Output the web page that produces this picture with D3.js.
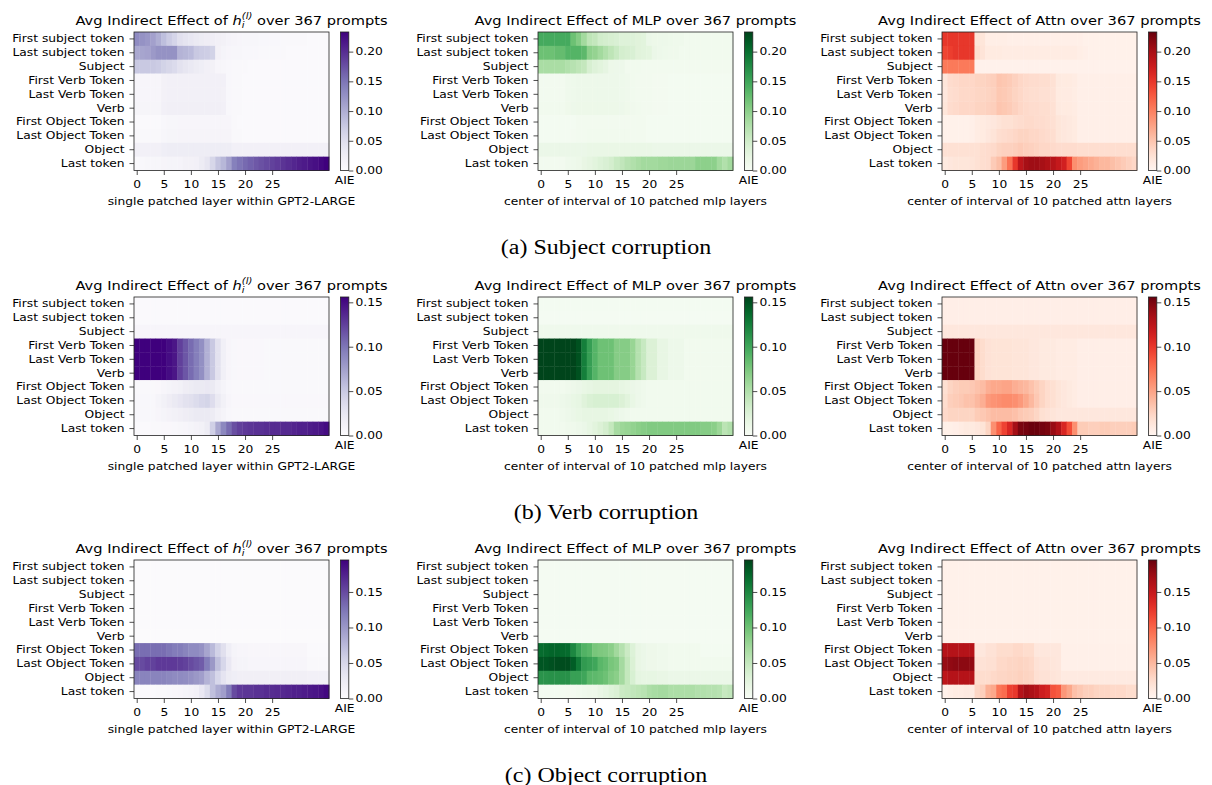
<!DOCTYPE html>
<html>
<head>
<meta charset="utf-8">
<script src="https://cdn.jsdelivr.net/npm/d3@7"></script>
<style>
  body { margin: 0; background: #fff; }
  text { font-family: "DejaVu Sans", sans-serif; fill: #000; }
</style>
</head>
<body>
<div id="chart"></div>
<script>
// row labels (token positions) and layer indices
var tokens = ["First subject token", "Last subject token", "Subject", "First Verb Token",
  "Last Verb Token", "Verb", "First Object Token", "Last Object Token", "Object", "Last token"];
var layers = [0,1,2,3,4,5,6,7,8,9,10,11,12,13,14,15,16,17,18,19,20,21,22,23,24,25,26,27,28,29,30,31,32,33,34,35];
var xTicks = [0, 5, 10, 15, 20, 25];

// colour range max per corruption, and colourbar ticks
var vmaxByRow = [0.233, 0.156, 0.195];
var cbTicksByRow = [[0, 0.05, 0.10, 0.15, 0.20], [0, 0.05, 0.10, 0.15], [0, 0.05, 0.10, 0.15]];
var captions = ["(a) Subject corruption", "(b) Verb corruption", "(c) Object corruption"];
var xLabels = ["single patched layer within GPT2-LARGE", "center of interval of 10 patched mlp layers",
  "center of interval of 10 patched attn layers"];

// AIE values, in thousandths (rows = tokens, columns = layers)
var subjHidden = [
  [130,125,120,112,100,85,72,62,48,42,38,33,30,27,25,22,20,16,14,12,11,10,10,9,8,8,8,7,7,6,6,6,5,5,5,5],
  [105,108,110,118,125,125,125,125,95,92,88,75,72,70,65,20,15,12,10,10,9,8,8,7,6,6,6,6,5,5,5,5,5,5,5,5],
  [75,75,75,75,72,65,60,55,45,40,35,30,26,22,20,12,10,8,7,6,6,5,5,5,5,5,4,4,4,4,4,4,4,4,4,4],
  [12,12,12,12,12,20,22,22,22,22,22,22,22,22,22,22,22,8,6,6,5,5,5,5,5,4,4,4,4,4,4,4,4,4,4,4],
  [12,12,12,12,12,20,22,22,22,22,22,22,22,22,22,22,20,8,6,6,5,5,5,5,5,4,4,4,4,4,4,4,4,4,4,4],
  [13,13,13,13,13,22,24,24,24,24,24,24,24,24,24,24,22,9,7,6,5,5,5,5,5,4,4,4,4,4,4,4,4,4,4,4],
  [5,5,5,5,5,9,11,11,12,12,12,12,12,12,12,12,12,12,6,5,5,4,4,4,4,4,4,4,4,4,4,4,4,4,4,4],
  [6,6,6,6,6,11,13,13,14,14,14,14,14,14,14,14,14,14,7,6,5,5,5,5,5,5,5,5,5,5,5,5,5,5,5,5],
  [22,22,22,22,22,26,28,28,28,28,28,28,28,28,28,28,28,28,22,22,22,22,22,22,22,22,22,22,22,22,22,22,22,22,22,22],
  [5,8,10,10,10,14,15,15,16,20,20,22,30,40,60,80,92,112,140,150,158,164,170,175,180,185,190,195,200,205,210,214,218,222,228,233]
];
var subjMlp = [
  [145,145,145,145,145,145,120,105,85,65,60,48,45,42,40,35,35,35,32,30,18,16,15,15,14,12,12,10,10,10,10,10,10,10,10,10],
  [120,120,120,125,125,135,135,135,130,100,95,85,75,65,55,45,42,40,32,30,28,18,15,14,12,12,10,10,10,10,10,10,10,10,10,10],
  [80,80,80,80,80,75,70,65,60,42,35,30,25,16,15,15,10,10,10,8,8,8,8,8,8,8,8,8,8,8,8,8,8,8,8,8],
  [8,8,8,8,8,12,14,15,15,15,15,15,15,15,15,14,12,10,8,8,8,7,7,7,6,6,6,6,6,6,6,6,6,6,6,6],
  [8,8,8,8,8,12,14,15,15,15,15,15,15,15,15,14,12,10,8,8,8,7,7,7,6,6,6,6,6,6,6,6,6,6,6,6],
  [9,9,9,9,9,13,15,16,16,16,16,16,16,16,16,15,13,11,9,8,8,7,7,7,6,6,6,6,6,6,6,6,6,6,6,6],
  [6,6,6,6,6,6,6,8,8,8,8,8,8,8,8,8,8,8,8,8,6,6,6,6,6,6,6,6,6,6,6,6,6,6,6,6],
  [6,6,6,6,6,6,7,8,8,9,9,9,9,9,9,9,9,8,8,8,6,6,6,6,6,6,6,6,6,6,6,6,6,6,6,6],
  [18,18,18,18,18,18,18,18,18,20,20,20,20,20,20,20,20,20,20,20,20,18,18,18,18,18,18,18,18,18,18,18,18,18,18,18],
  [8,8,8,8,8,12,14,16,22,26,30,36,40,45,55,62,70,75,80,85,85,85,88,88,90,90,90,90,90,100,100,100,100,85,75,85]
];
var subjAttn = [
  [150,150,150,150,150,150,22,20,10,10,10,10,8,8,8,8,8,8,8,8,8,8,8,8,8,8,6,6,6,6,6,6,6,6,6,6],
  [140,145,150,150,150,150,28,22,14,14,14,12,12,12,12,12,12,12,12,12,12,12,12,12,12,10,8,6,6,6,6,6,6,6,6,6],
  [105,105,105,105,105,105,5,5,5,5,5,5,5,5,5,5,5,5,5,5,5,5,5,5,5,5,5,5,5,5,5,5,5,5,5,5],
  [20,30,32,35,35,35,38,38,40,42,50,48,45,40,35,32,30,30,28,28,25,15,14,14,12,8,8,8,8,8,8,8,8,8,8,8],
  [18,28,30,33,33,34,36,36,38,40,48,46,43,38,34,30,28,28,26,26,24,14,13,13,11,8,8,8,8,8,8,8,8,8,8,8],
  [20,30,32,35,35,35,38,38,40,42,50,48,45,40,35,32,30,30,28,28,25,15,14,14,12,8,8,8,8,8,8,8,8,8,8,8],
  [6,6,6,6,6,8,12,14,16,18,22,25,25,28,30,32,32,30,30,28,26,20,18,16,14,8,8,8,8,8,8,8,8,8,8,8],
  [6,6,6,6,6,8,12,14,18,22,28,30,32,35,38,38,35,35,32,30,28,20,18,16,14,8,8,8,8,8,8,8,8,8,8,8],
  [25,25,25,25,25,25,25,28,30,32,38,40,40,42,45,42,40,38,35,35,32,30,30,30,30,28,28,28,28,28,28,28,28,28,28,28],
  [15,18,20,20,20,22,25,28,30,45,55,80,110,150,185,200,205,205,200,195,190,180,170,140,90,80,75,70,65,60,60,55,50,45,40,35]
];
var verbHidden = [
  [3,3,3,3,3,3,3,3,3,3,3,3,3,3,3,3,3,3,3,3,3,3,3,3,3,3,3,3,3,3,3,3,3,3,3,3],
  [3,3,3,3,3,3,3,3,3,3,3,3,3,3,3,3,3,3,3,3,3,3,3,3,3,3,3,3,3,3,3,3,3,3,3,3],
  [8,8,8,8,8,8,8,8,8,8,8,8,8,8,8,8,8,8,8,8,8,8,8,8,8,8,8,8,8,8,8,8,8,8,8,8],
  [156,156,156,156,156,156,150,145,125,115,105,95,85,65,50,30,15,8,6,5,5,5,5,5,4,4,4,4,4,4,4,4,4,4,4,4],
  [156,156,156,156,156,156,150,145,125,115,105,95,85,65,50,30,15,8,6,5,5,5,5,5,4,4,4,4,4,4,4,4,4,4,4,4],
  [156,156,156,156,156,156,150,145,125,115,105,95,85,65,50,30,15,8,6,5,5,5,5,5,4,4,4,4,4,4,4,4,4,4,4,4],
  [4,4,4,4,5,8,10,12,14,18,20,22,22,24,22,15,10,6,4,4,4,4,4,4,4,4,4,4,4,4,4,4,4,4,4,4],
  [6,6,6,6,10,14,18,22,26,30,32,36,40,42,35,22,14,8,5,5,5,5,5,5,5,5,5,5,5,5,5,5,5,5,5,5],
  [6,6,6,6,8,10,12,14,16,18,20,22,22,22,20,14,10,6,4,4,4,4,4,4,4,4,4,4,4,4,4,4,4,4,4,4],
  [3,3,3,4,4,5,5,6,7,8,10,12,14,20,45,70,90,105,118,125,128,130,132,132,134,135,135,136,136,138,140,140,142,144,146,150]
];
var verbMlp = [
  [4,4,4,4,4,4,4,4,4,4,4,4,4,4,4,4,4,4,4,4,4,4,4,4,4,4,4,4,4,4,4,4,4,4,4,4],
  [3,3,3,3,3,3,3,3,3,3,3,3,3,3,3,3,3,3,3,3,3,3,3,3,3,3,3,3,3,3,3,3,3,3,3,3],
  [8,8,8,8,8,8,8,8,8,8,8,8,8,8,8,8,8,8,8,8,8,8,8,8,8,8,8,8,8,8,8,8,8,8,8,8],
  [156,156,156,156,156,156,156,150,125,105,90,80,80,80,70,70,70,62,48,38,25,25,15,15,10,10,10,6,6,6,6,6,6,6,6,6],
  [156,156,156,156,156,156,156,150,125,105,90,80,80,80,70,70,70,62,48,38,25,25,15,15,10,10,10,6,6,6,6,6,6,6,6,6],
  [156,156,156,156,156,156,156,150,125,105,90,80,80,80,70,70,70,62,48,38,25,25,15,15,10,10,10,6,6,6,6,6,6,6,6,6],
  [6,6,6,6,6,8,10,12,14,16,18,18,18,18,18,16,14,12,10,8,6,6,6,6,6,6,6,6,6,6,6,6,6,6,6,6],
  [8,8,8,8,10,12,14,16,22,26,28,28,28,28,28,25,20,14,10,8,6,6,6,6,6,6,6,6,6,6,6,6,6,6,6,6],
  [6,6,6,6,8,10,12,14,16,16,16,16,16,14,12,10,8,6,6,6,6,6,6,6,6,6,6,6,6,6,6,6,6,6,6,6],
  [6,6,6,6,6,8,8,10,12,16,20,25,30,40,55,60,62,65,68,70,72,72,72,72,72,72,72,72,72,72,70,70,68,60,45,50]
];
var verbAttn = [
  [6,6,6,6,6,6,6,6,6,6,6,6,6,6,6,6,6,6,6,6,6,6,6,6,6,6,6,6,6,6,6,6,6,6,6,6],
  [6,6,6,6,6,6,6,6,6,6,6,6,6,6,6,6,6,6,6,6,6,6,6,6,6,6,6,6,6,6,6,6,6,6,6,6],
  [12,12,12,12,12,12,12,12,12,12,12,12,12,12,12,12,12,12,12,12,12,12,12,12,12,12,12,12,12,12,12,12,12,12,12,12],
  [156,156,156,156,156,156,25,20,16,15,15,15,15,14,14,14,12,12,10,10,10,8,8,8,8,6,6,6,6,6,6,6,6,6,6,6],
  [156,156,156,156,156,156,25,20,16,15,15,15,15,14,14,14,12,12,10,10,10,8,8,8,8,6,6,6,6,6,6,6,6,6,6,6],
  [156,156,156,156,156,156,25,20,16,15,15,15,15,14,14,14,12,12,10,10,10,8,8,8,8,6,6,6,6,6,6,6,6,6,6,6],
  [18,25,28,30,30,32,35,38,45,48,48,50,50,45,42,40,35,30,25,20,18,14,12,10,8,6,6,6,6,6,6,6,6,6,6,6],
  [20,28,30,32,35,35,40,45,55,58,60,62,62,60,55,48,40,32,25,20,18,14,12,10,8,6,6,6,6,6,6,6,6,6,6,6],
  [22,25,25,25,25,25,30,32,35,38,38,38,38,36,32,30,28,24,18,16,14,12,12,12,12,12,12,12,12,12,12,12,12,12,12,12],
  [5,5,6,8,10,10,12,15,25,60,80,95,110,135,150,152,155,155,152,150,140,130,110,90,60,30,30,28,28,30,30,28,28,28,28,30]
];
var objHidden = [
  [2,2,2,2,2,2,2,2,2,2,2,2,2,2,2,2,2,2,2,2,2,2,2,2,2,2,2,2,2,2,2,2,2,2,2,2],
  [2,2,2,2,2,2,2,2,2,2,2,2,2,2,2,2,2,2,2,2,2,2,2,2,2,2,2,2,2,2,2,2,2,2,2,2],
  [2,2,2,2,2,2,2,2,2,2,2,2,2,2,2,2,2,2,2,2,2,2,2,2,2,2,2,2,2,2,2,2,2,2,2,2],
  [2,2,2,2,2,2,2,2,2,2,2,2,2,2,2,2,2,2,2,2,2,2,2,2,2,2,2,2,2,2,2,2,2,2,2,2],
  [2,2,2,2,2,2,2,2,2,2,2,2,2,2,2,2,2,2,2,2,2,2,2,2,2,2,2,2,2,2,2,2,2,2,2,2],
  [2,2,2,2,2,2,2,2,2,2,2,2,2,2,2,2,2,2,2,2,2,2,2,2,2,2,2,2,2,2,2,2,2,2,2,2],
  [130,130,130,130,130,130,125,120,120,115,110,110,105,90,75,55,40,22,12,10,10,8,8,8,8,8,8,8,8,8,8,8,3,3,3,3],
  [150,150,155,155,160,160,160,160,158,155,150,145,140,120,100,70,50,30,15,12,12,10,10,10,10,10,10,10,10,10,10,10,5,5,5,5],
  [115,115,115,115,115,115,112,110,110,108,105,100,95,80,70,50,35,25,22,20,20,20,20,20,20,20,20,20,20,20,20,20,18,18,18,18],
  [3,3,4,4,5,6,7,8,10,12,15,18,30,45,70,85,95,120,150,160,162,162,165,165,168,168,170,170,172,175,175,178,180,182,185,190]
];
var objMlp = [
  [4,4,4,4,4,4,4,4,4,4,4,4,4,4,4,4,4,4,4,4,4,4,4,4,4,4,4,4,4,4,4,4,4,4,4,4],
  [4,4,4,4,4,4,4,4,4,4,4,4,4,4,4,4,4,4,4,4,4,4,4,4,4,4,4,4,4,4,4,4,4,4,4,4],
  [4,4,4,4,4,4,4,4,4,4,4,4,4,4,4,4,4,4,4,4,4,4,4,4,4,4,4,4,4,4,4,4,4,4,4,4],
  [4,4,4,4,4,4,4,4,4,4,4,4,4,4,4,4,4,4,4,4,4,4,4,4,4,4,4,4,4,4,4,4,4,4,4,4],
  [4,4,4,4,4,4,4,4,4,4,4,4,4,4,4,4,4,4,4,4,4,4,4,4,4,4,4,4,4,4,4,4,4,4,4,4],
  [4,4,4,4,4,4,4,4,4,4,4,4,4,4,4,4,4,4,4,4,4,4,4,4,4,4,4,4,4,4,4,4,4,4,4,4],
  [170,172,175,175,172,170,150,130,115,110,95,92,90,85,72,60,45,30,18,15,12,12,10,10,8,8,8,8,8,8,5,5,5,5,5,5],
  [185,185,188,190,190,190,180,160,135,130,125,110,105,95,90,70,50,32,18,15,12,12,10,10,8,8,8,8,8,8,8,8,8,8,8,8],
  [140,140,142,142,142,142,130,130,125,110,108,105,100,90,85,70,50,35,22,20,20,20,18,18,15,15,15,15,15,15,15,15,15,15,15,15],
  [5,5,5,5,5,6,6,8,10,12,12,18,22,28,32,45,48,52,55,58,65,68,70,70,65,65,65,65,65,62,62,60,60,58,48,52]
];
var objAttn = [
  [5,5,5,5,5,5,5,5,5,5,5,5,5,5,5,5,5,5,5,5,5,5,5,5,5,5,5,5,5,5,5,5,5,5,5,5],
  [5,5,5,5,5,5,5,5,5,5,5,5,5,5,5,5,5,5,5,5,5,5,5,5,5,5,5,5,5,5,5,5,5,5,5,5],
  [5,5,5,5,5,5,5,5,5,5,5,5,5,5,5,5,5,5,5,5,5,5,5,5,5,5,5,5,5,5,5,5,5,5,5,5],
  [5,5,5,5,5,5,5,5,5,5,5,5,5,5,5,5,5,5,5,5,5,5,5,5,5,5,5,5,5,5,5,5,5,5,5,5],
  [5,5,5,5,5,5,5,5,5,5,5,5,5,5,5,5,5,5,5,5,5,5,5,5,5,5,5,5,5,5,5,5,5,5,5,5],
  [5,5,5,5,5,5,5,5,5,5,5,5,5,5,5,5,5,5,5,5,5,5,5,5,5,5,5,5,5,5,5,5,5,5,5,5],
  [160,160,160,160,160,160,15,15,20,20,25,25,25,28,28,25,25,15,15,15,15,15,6,6,6,6,6,6,6,6,6,6,6,6,6,6],
  [175,178,180,180,180,178,20,20,22,22,28,28,30,30,32,30,28,20,18,18,16,15,6,6,6,6,6,6,6,6,6,6,6,6,6,6],
  [155,160,160,160,160,160,25,25,25,28,30,30,32,32,34,32,30,22,20,20,18,16,12,12,12,12,12,12,12,12,12,12,12,12,12,12],
  [5,8,10,10,12,12,30,35,55,60,90,95,120,125,160,170,165,160,145,140,110,105,70,60,45,40,35,35,32,30,30,28,28,28,25,25]
];

var grid = [
  [subjHidden, subjMlp, subjAttn],
  [verbHidden, verbMlp, verbAttn],
  [objHidden, objMlp, objAttn]
];
var kinds = ["h", "MLP", "Attn"];
var palettes = [d3.interpolatePurples, d3.interpolateGreens, d3.interpolateReds];

var width = 1212, height = 785;
var colLeft = [134, 538, 942];
var rowTop = [32, 297, 560];
var pw = 195, ph = 138.5;
var tickLen = 4.5;
var SX = 1.17; // the picture is stretched sideways, so text is too

var svg = d3.select("#chart").append("svg")
  .attr("width", width)
  .attr("height", height);

function placeText(parent, x, y, size, sx) {
  return parent.append("text")
    .attr("transform", "translate(" + x + "," + y + ") scale(" + (sx || SX) + ",1)")
    .attr("text-anchor", "middle")
    .style("font-size", size + "px");
}

function addTitle(g, kind) {
  var t = placeText(g, pw / 2, -7.5, 12.5);
  if (kind === "h") {
    t.append("tspan").text("Avg Indirect Effect of ");
    t.append("tspan").style("font-style", "italic").text("h");
    t.append("tspan").style("font-style", "italic").style("font-size", "8.5px").attr("dy", 3).text("i");
    t.append("tspan").style("font-style", "italic").style("font-size", "8.5px")
      .attr("dx", -2.4).attr("dy", -8.5).text("(l)");
    t.append("tspan").attr("dy", 5.5).text(" over 367 prompts");
  } else {
    t.text("Avg Indirect Effect of " + kind + " over 367 prompts");
  }
}

function styleAxis(g) {
  g.select(".domain").remove();
  g.selectAll(".tick line").attr("stroke", "#222").attr("stroke-width", 0.8);
  g.selectAll(".tick text")
    .style("font-size", "10.5px")
    .style("font-family", "DejaVu Sans")
    .attr("fill", "#000")
    .attr("transform", "scale(" + SX + ",1)");
}

grid.forEach(function (rowPanels, r) {
  var vmax = vmaxByRow[r];

  rowPanels.forEach(function (data, c) {
    var color = d3.scaleSequential(palettes[c]).domain([0, vmax]).clamp(true);
    var g = svg.append("g").attr("transform", "translate(" + colLeft[c] + "," + rowTop[r] + ")");

    var x = d3.scaleBand().domain(layers).range([0, pw]);
    var y = d3.scaleBand().domain(tokens).range([0, ph]);
    var xTick = d3.scaleLinear().domain([-0.5, 35.5]).range([0, pw]);

    var cells = [];
    data.forEach(function (vals, i) {
      vals.forEach(function (v, j) {
        cells.push({ token: tokens[i], layer: layers[j], value: v / 1000 });
      });
    });

    g.append("g").selectAll("rect")
      .data(cells)
      .enter()
      .append("rect")
      .attr("x", d => x(d.layer))
      .attr("y", d => y(d.token))
      .attr("width", x.bandwidth() + 0.4)
      .attr("height", y.bandwidth() + 0.4)
      .attr("fill", d => color(d.value));

    g.append("rect")
      .attr("width", pw).attr("height", ph)
      .attr("fill", "none").attr("stroke", "#222").attr("stroke-width", 0.8);

    g.append("g")
      .attr("transform", "translate(0," + ph + ")")
      .call(d3.axisBottom(xTick).tickValues(xTicks).tickSize(tickLen).tickPadding(5.5))
      .call(styleAxis);

    g.append("g")
      .call(d3.axisLeft(y).tickSize(tickLen).tickPadding(3.6))
      .call(styleAxis);

    addTitle(g, kinds[c]);

    placeText(g, pw / 2, ph + 34.5, 10.5).text(xLabels[c]);

    // colourbar
    var cbx = pw + 11.5, cbw = 8.3;
    var gradId = "grad-" + r + "-" + c;
    var grad = svg.append("defs").append("linearGradient")
      .attr("id", gradId)
      .attr("x1", 0).attr("y1", 1).attr("x2", 0).attr("y2", 0);
    d3.range(0, 1.0001, 0.05).forEach(function (t) {
      grad.append("stop").attr("offset", t).attr("stop-color", palettes[c](t));
    });

    var cb = g.append("g").attr("transform", "translate(" + cbx + ",0)");
    cb.append("rect")
      .attr("width", cbw).attr("height", ph)
      .attr("fill", "url(#" + gradId + ")")
      .attr("stroke", "#222").attr("stroke-width", 0.8);

    var cbScale = d3.scaleLinear().domain([0, vmax]).range([ph, 0]);
    cb.append("g")
      .attr("transform", "translate(" + cbw + ",0)")
      .call(d3.axisRight(cbScale).tickValues(cbTicksByRow[r]).tickFormat(d3.format(".2f")).tickSize(tickLen).tickPadding(1.2))
      .call(styleAxis);

    placeText(cb, cbw / 2, ph + 13.5, 10.5).text("AIE");
  });

  placeText(svg, 606, rowTop[r] + 221.5, 20.5, 1.17)
    .style("font-family", "'Liberation Serif', 'Times New Roman', serif")
    .attr("fill", "#000")
    .text(captions[r]);
});
</script>
</body>
</html>
